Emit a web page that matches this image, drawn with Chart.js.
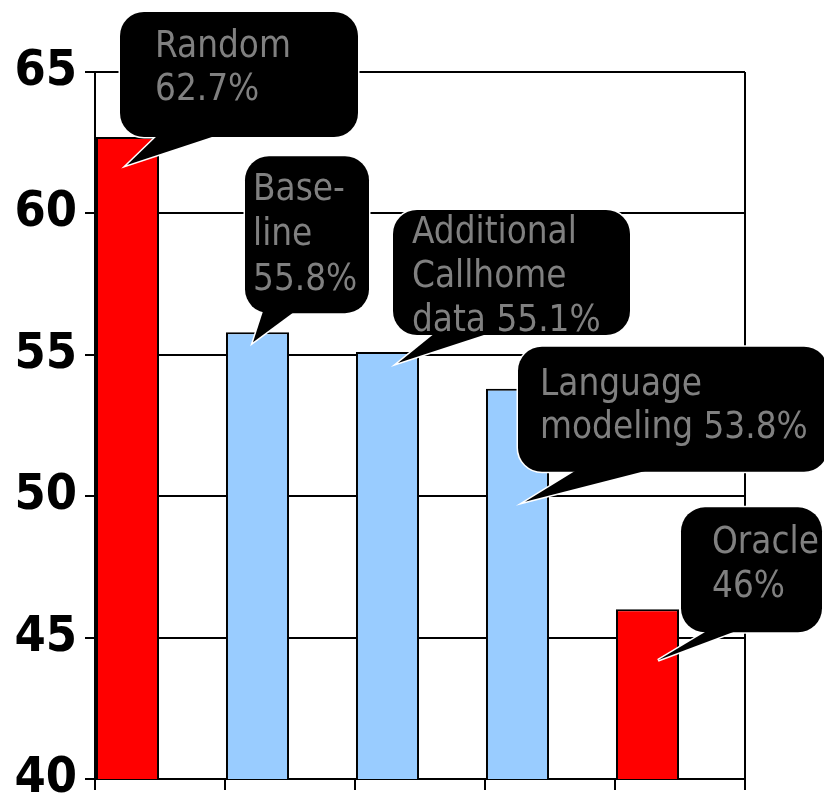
<!DOCTYPE html>
<html><head><meta charset="utf-8">
<script src="https://cdn.jsdelivr.net/npm/chart.js@4/dist/chart.umd.min.js"></script>
<style>html,body{margin:0;padding:0;background:#fff}#wrap{width:824px;height:798px}</style>
</head><body><div id="wrap"><canvas id="c" width="824" height="798"></canvas></div>
<script>
// ---- data ----
const categories = ['Random', 'Baseline', 'Additional Callhome data', 'Language modeling', 'Oracle'];
const errorRates = [62.7, 55.8, 55.1, 53.8, 46];
const barKinds = ['reference', 'system', 'system', 'system', 'reference'];
const calloutText = [
  ['Random', '62.7%'],
  ['Base-', 'line', '55.8%'],
  ['Additional', 'Callhome', 'data 55.1%'],
  ['Language', 'modeling 53.8%'],
  ['Oracle', '46%']
];
const yTicks = [40, 45, 50, 55, 60, 65];

// ---- styles / layout ----
const kindColor = { reference: '#FF0000', system: '#99CCFF' };
const FONT = '"DejaVu Sans Condensed", "DejaVu Sans", sans-serif';
// callout geometry relative to bar top-centre: tip, box [dx,dy,w,h], pointer base x-range, text
const calloutLayout = [
  { tip: [-0.5, 28], box: [-7.5, -125, 238, 125], base: [30.5, 90.5], text: [35, 45], lh: 43 },
  { tip: [-4.5, 10], box: [-12.5, -176, 124, 157], base: [5.5, 37.5], text: [8, 44], lh: 45 },
  { tip: [10.5, 11], box: [5.5, -142, 237, 125], base: [47.5, 102.5], text: [19, 33], lh: 44 },
  { tip: [7.5, 113], box: [0.5, -42, 310, 125], base: [59.5, 132.5], text: [22, 48], lh: 43 },
  { tip: [10.5, 51], box: [33.5, -102, 141, 125], base: [60.5, 90.5], text: [31, 46], lh: 44 }
];

const framePlugin = {
  id: 'frame',
  beforeDatasetsDraw(chart) {
    const { ctx, chartArea: a } = chart;
    ctx.save();
    ctx.strokeStyle = '#000';
    ctx.lineWidth = 2;
    ctx.beginPath();
    ctx.moveTo(a.right, a.top);
    ctx.lineTo(a.right, a.bottom);
    ctx.stroke();
    ctx.restore();
  }
};

const calloutPlugin = {
  id: 'callouts',
  afterDraw(chart) {
    const ctx = chart.ctx;
    const meta = chart.getDatasetMeta(0);
    meta.data.forEach((bar, i) => {
      const L = calloutLayout[i];
      const ax = bar.x, ay = bar.y;
      const bx = ax + L.box[0], by = ay + L.box[1], bw = L.box[2], bh = L.box[3];
      const tx = ax + L.tip[0], ty = ay + L.tip[1];
      const b1 = ax + L.base[0], b2 = ax + L.base[1], bb = by + bh;
      const rectPath = () => { ctx.beginPath(); ctx.roundRect(bx, by, bw, bh, 24); };
      const triPath = () => { ctx.beginPath(); ctx.moveTo(b1, bb - 2); ctx.lineTo(tx, ty); ctx.lineTo(b2, bb - 2); ctx.closePath(); };
      ctx.save();
      ctx.lineWidth = 3;
      ctx.strokeStyle = '#FFFFFF';
      ctx.lineJoin = 'miter';
      rectPath(); ctx.stroke();
      triPath(); ctx.stroke();
      ctx.fillStyle = '#000000';
      rectPath(); ctx.fill();
      triPath(); ctx.fill();
      ctx.fillStyle = '#808080';
      ctx.font = '36.5px ' + FONT;
      ctx.textAlign = 'left';
      ctx.textBaseline = 'alphabetic';
      calloutText[i].forEach((line, k) => {
        ctx.fillText(line, bx + L.text[0], by + L.text[1] + k * L.lh);
      });
      ctx.restore();
    });
  }
};

new Chart(document.getElementById('c'), {
  type: 'bar',
  data: {
    labels: categories,
    datasets: [
      {
        label: 'Error rate (%)',
        data: errorRates,
        backgroundColor: barKinds.map(k => kindColor[k]),
        borderColor: '#000000',
        borderWidth: 2
      },
      {
        label: 'spacer',
        data: categories.map(() => null)
      }
    ]
  },
  options: {
    responsive: false,
    animation: false,
    devicePixelRatio: 1,
    layout: { padding: { top: 72, right: 79, left: 0, bottom: 0 } },
    plugins: { legend: { display: false }, tooltip: { enabled: false } },
    datasets: { bar: { categoryPercentage: 1, barPercentage: 0.97 } },
    scales: {
      x: {
        offset: true,
        grid: { display: true, offset: true, drawOnChartArea: false, drawTicks: true, tickLength: 11, color: '#000', lineWidth: 2 },
        border: { display: true, color: '#000', width: 2 },
        ticks: { display: false },
        afterFit(s) { s.height = 19; s.paddingLeft = 0; s.paddingRight = 0; }
      },
      y: {
        min: 40, max: 65,
        afterBuildTicks(s) { s.ticks = yTicks.map(v => ({ value: v })); },
        ticks: { color: '#000', padding: 8, font: { family: FONT, size: 50, weight: 'bold' } },
        grid: { color: '#000', lineWidth: 2, tickLength: 10 },
        border: { color: '#000', width: 2 },
        afterFit(s) { s.width = 95; s.paddingTop = 0; s.paddingBottom = 0; }
      }
    }
  },
  plugins: [framePlugin, calloutPlugin]
});
</script>
</body></html>
